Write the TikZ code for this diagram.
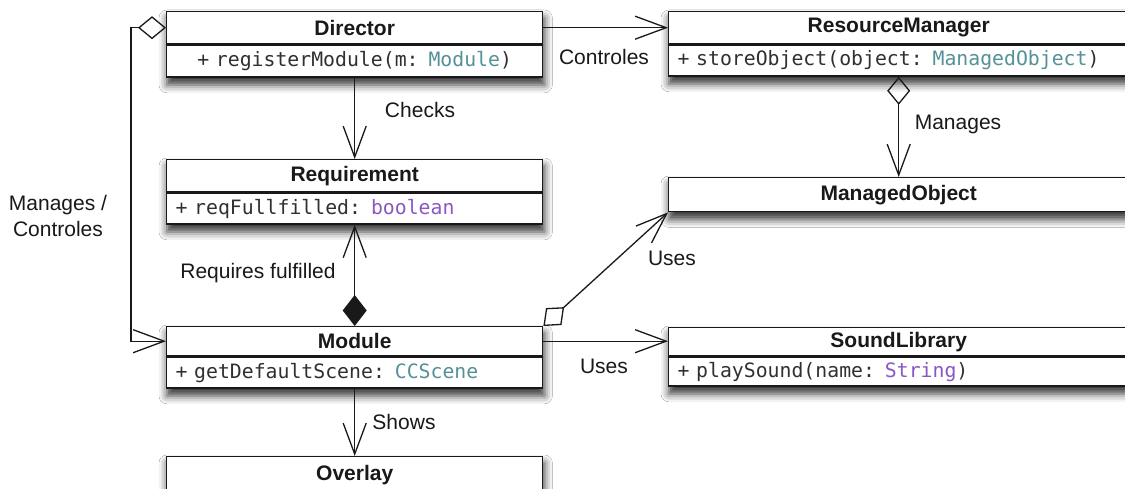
\documentclass[tikz,border=0pt]{standalone}
\usepackage{fontspec}
\setmainfont{Liberation Sans}
\newfontfamily\codefont{DejaVu Sans Mono}
\usetikzlibrary{arrows.meta,shadows.blur}
\pgfdeclarelayer{bg}
\pgfsetlayers{bg,main}
\definecolor{ink}{RGB}{25,25,25}
\definecolor{typeteal}{RGB}{84,145,152}
\definecolor{typepurple}{RGB}{138,88,196}

\tikzset{
  classtitle/.style={draw=ink, line width=1.4pt, fill=white, inner sep=0pt,
    font=\fontsize{21}{24}\selectfont\bfseries, text=ink, anchor=north west},
  classfield/.style={draw=ink, line width=1.4pt, fill=white, inner ysep=0pt, inner xsep=9pt,
    font=\codefont\fontsize{19.8}{24}\selectfont, text=ink!90, align=left, anchor=north west},
  boxshadow/.style={fill=white, blur shadow={shadow xshift=1pt, shadow yshift=-7pt,
    shadow blur radius=8pt, shadow opacity=80}},
  conn/.style={draw=ink, line width=1.3pt},
  lbl/.style={font=\fontsize{21}{26}\selectfont, text=ink, inner sep=0pt},
  tobarb/.style={-{Straight Barb[length=31pt,width=23pt]}},
  odiabarb/.style={{Diamond[open,length=28pt,width=23pt]}-{Straight Barb[length=31pt,width=23pt]}},
  fdiabarb/.style={{Diamond[length=31pt,width=24pt]}-{Straight Barb[length=31pt,width=23pt]}},
}

\begin{document}
\begin{tikzpicture}[x=1pt,y=-1pt]
\useasboundingbox (0,0) rectangle (1125,489);
\clip (0,0) rectangle (1125,489);

% ---- classes, left column ----
\node[classtitle, minimum width=376pt, minimum height=32pt] (dir) at (166,11) {Director};
\node[classfield, text width=358pt, minimum height=32pt, align=center] (dirf) at (dir.south west)
  {+ registerModule(m: \textcolor{typeteal}{Module})};

\node[classtitle, minimum width=376pt, minimum height=32pt] (req) at (166,159) {Requirement};
\node[classfield, text width=358pt, minimum height=31pt] (reqf) at (req.south west)
  {+ reqFullfilled: \textcolor{typepurple}{boolean}};

\node[classtitle, minimum width=376pt, minimum height=29pt] (mod) at (166,326) {Module};
\node[classfield, text width=358pt, minimum height=31pt] (modf) at (mod.south west)
  {+ getDefaultScene: \textcolor{typeteal}{CCScene}};

\node[classtitle, minimum width=376pt, minimum height=40pt, text depth=8pt] (ov) at (166,456) {Overlay};

% ---- classes, right column ----
\node[classtitle, minimum width=460pt, minimum height=32pt] (rm) at (668,11) {ResourceManager};
\node[classfield, text width=442pt, minimum height=31pt] (rmf) at (rm.south west)
  {+ storeObject(object: \textcolor{typeteal}{ManagedObject})};

\node[classtitle, minimum width=460pt, minimum height=34pt] (mo) at (668,177) {ManagedObject};

\node[classtitle, minimum width=460pt, minimum height=28pt] (sl) at (668,327) {SoundLibrary};
\node[classfield, text width=442pt, minimum height=29pt] (slf) at (sl.south west)
  {+ playSound(name: \textcolor{typepurple}{String})};

% ---- shadows and page ----
\begin{pgfonlayer}{bg}
  \fill[white] (0,0) rectangle (1125,489);
  \path[boxshadow] (dir.north west) rectangle (dirf.south east);
  \path[boxshadow] (req.north west) rectangle (reqf.south east);
  \path[boxshadow] (mod.north west) rectangle (modf.south east);
  \path[boxshadow] (ov.north west) rectangle (ov.south east);
  \path[boxshadow] (rm.north west) rectangle (rmf.south east);
  \path[boxshadow] (mo.north west) rectangle (mo.south east);
  \path[boxshadow] (sl.north west) rectangle (slf.south east);
\end{pgfonlayer}

% ---- connectors ----
\draw[conn, tobarb] (dir.east) -- (rm.west);
\draw[conn, tobarb] (dirf.south) -- (req.north);
\draw[conn, odiabarb] (rmf.south) -- (mo.north);
\draw[conn, fdiabarb] (mod.north) -- (reqf.south);
\draw[conn, odiabarb] (dir.west) -- ++(-35,0) |- (mod.west);
\draw[conn, odiabarb] (mod.north east) -- (mo.south west);
\draw[conn, tobarb] (mod.east) -- (mod.east -| sl.west);
\draw[conn, tobarb] (modf.south) -- (ov.north);

% ---- labels ----
\node[lbl] (lcontr) at (604,57) {Controles};
\node[lbl] (lchecks) at (420,110) {Checks};
\node[lbl] (lmanages) at (958,124) {Manages};
\node[lbl, align=center] (lmc) at (58,216) {Manages /\\Controles};
\node[lbl] (lreq) at (258,273) {Requires fulfilled};
\node[lbl] (luses1) at (672,258) {Uses};
\node[lbl] (luses2) at (604,366) {Uses};
\node[lbl] (lshows) at (404,422) {Shows};
\end{tikzpicture}
\end{document}
